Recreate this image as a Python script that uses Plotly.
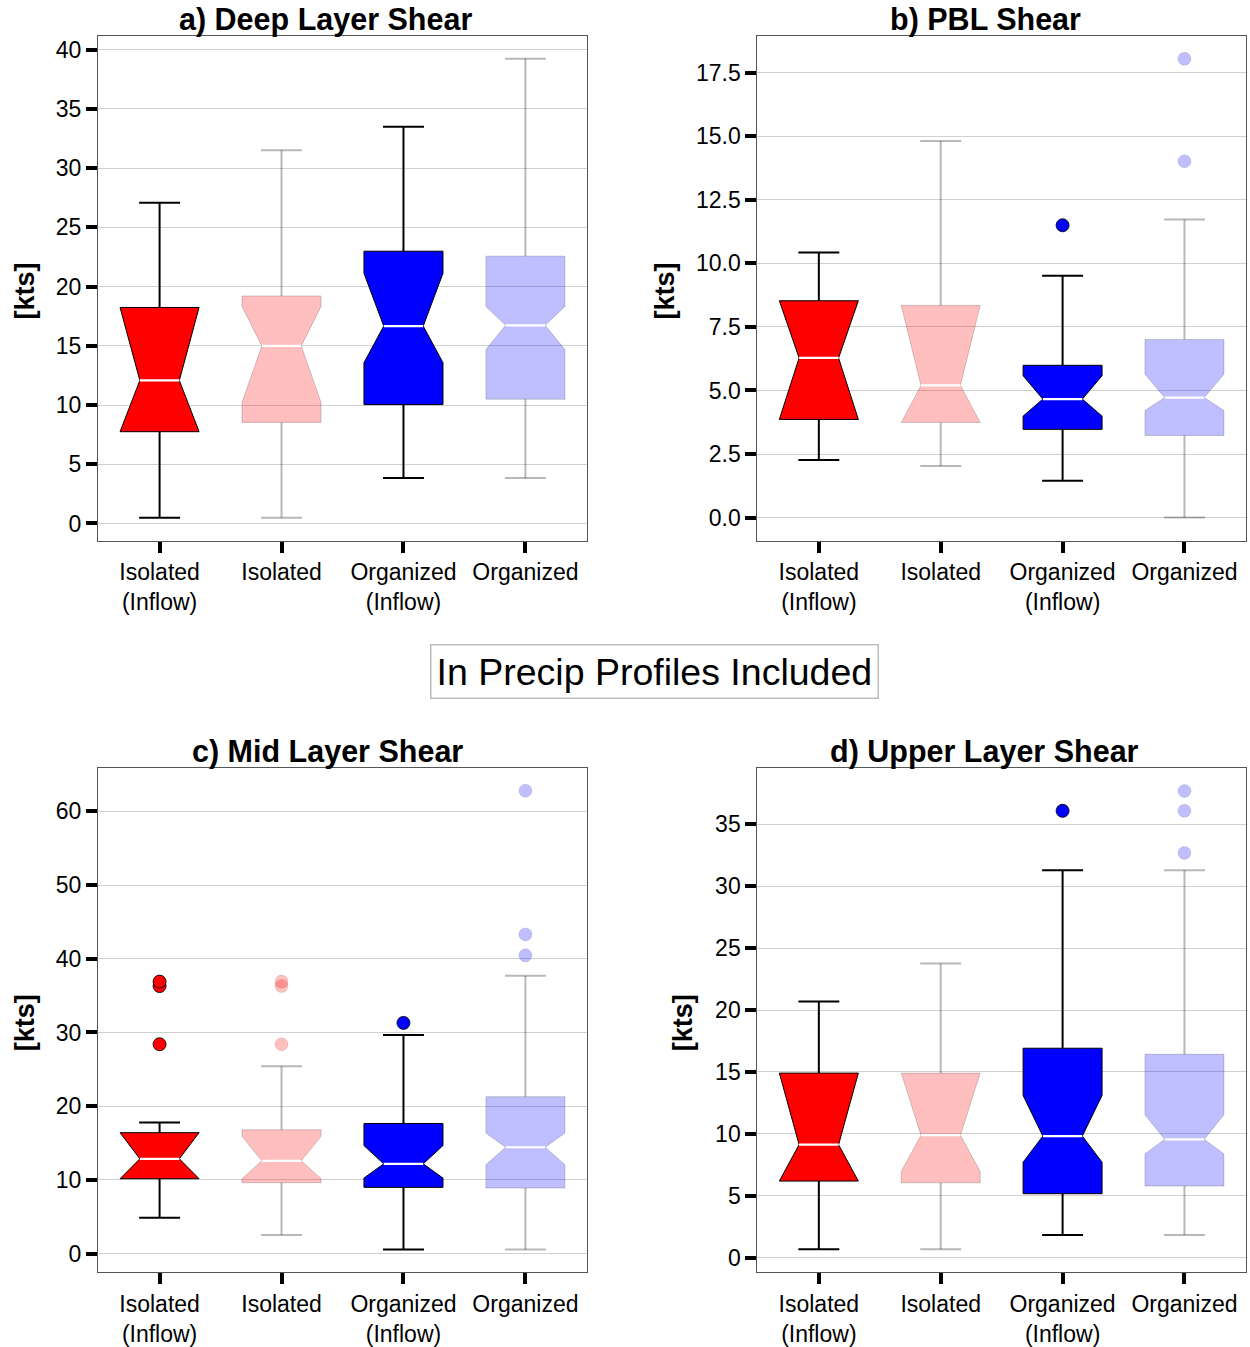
import plotly.graph_objects as go

# ---------------- data ----------------
categories = ["Isolated<br>(Inflow)", "Isolated", "Organized<br>(Inflow)", "Organized"]
is_inflow = [True, False, True, False]
base_colors = ["red", "red", "blue", "blue"]

deep_lower = [0.48, 0.48, 3.83, 3.83]
deep_q1 = [7.75, 8.53, 10.04, 10.49]
deep_notch_lo = [7.75, 10.21, 13.57, 14.68]
deep_median = [12.08, 14.99, 16.67, 16.73]
deep_notch_hi = [18.24, 18.32, 21.12, 18.32]
deep_q3 = [18.24, 19.21, 22.99, 22.57]
deep_upper = [27.07, 31.52, 33.5, 39.24]
deep_outliers = [[], [], [], []]

pbl_lower = [2.26, 2.03, 1.45, 0.0]
pbl_q1 = [3.86, 3.74, 3.47, 3.23]
pbl_notch_lo = [3.86, 3.74, 3.99, 4.21]
pbl_median = [6.28, 5.2, 4.66, 4.72]
pbl_notch_hi = [8.53, 8.35, 5.58, 5.64]
pbl_q3 = [8.53, 8.35, 5.99, 7.01]
pbl_upper = [10.43, 14.82, 9.51, 11.73]
pbl_outliers = [[], [], [11.5], [14.02, 18.05]]

mid_lower = [4.85, 2.52, 0.54, 0.54]
mid_q1 = [10.15, 9.61, 8.98, 8.89]
mid_notch_lo = [10.15, 10.15, 10.24, 12.04]
mid_median = [12.85, 12.58, 12.17, 14.42]
mid_notch_hi = [16.4, 15.9, 14.65, 16.35]
mid_q3 = [16.4, 16.8, 17.65, 21.29]
mid_upper = [17.79, 25.43, 29.65, 37.69]
mid_outliers = [[28.4, 36.3, 36.9], [28.4, 36.3, 36.9], [31.3], [40.47, 43.3, 62.8]]

upper_lower = [0.68, 0.68, 1.83, 1.83]
upper_q1 = [6.19, 6.05, 5.17, 5.79]
upper_notch_lo = [6.19, 6.96, 7.71, 8.38]
upper_median = [9.13, 9.9, 9.82, 9.56]
upper_notch_hi = [14.91, 14.91, 13.11, 11.54]
upper_q3 = [14.91, 14.91, 16.92, 16.43]
upper_upper = [20.69, 23.76, 31.3, 31.3]
upper_outliers = [[], [], [36.1], [32.7, 36.1, 37.7]]

titles = ["a) Deep Layer Shear", "b) PBL Shear", "c) Mid Layer Shear", "d) Upper Layer Shear"]
y_label = "[kts]"
center_label = "In Precip Profiles Included"

# ---------------- styling ----------------
W, H = 1250, 1347
FONT = "Liberation Sans, Arial, Helvetica, sans-serif"
BOX_HALF = 0.324
CAP_HALF = 0.168
MED_HALF = BOX_HALF / 2

fill_dark = {"red": "rgb(255,0,0)", "blue": "rgb(0,0,255)"}
fill_light = {"red": "rgba(255,0,0,0.25)", "blue": "rgba(0,0,255,0.25)"}

panels = [
    dict(lo=deep_lower, q1=deep_q1, nl=deep_notch_lo, med=deep_median, nh=deep_notch_hi,
         q3=deep_q3, hi=deep_upper, out=deep_outliers, yrange=[-1.45, 41.12], dtick=5, fmt="d",
         xdom=[98 / W, 587 / W], ydom=[1 - 544.3 / H, 1 - 36.7 / H], title_x=325, title_y=20, lab_x=25),
    dict(lo=pbl_lower, q1=pbl_q1, nl=pbl_notch_lo, med=pbl_median, nh=pbl_notch_hi,
         q3=pbl_q3, hi=pbl_upper, out=pbl_outliers, yrange=[-0.91, 18.93], dtick=2.5, fmt=".1f",
         xdom=[757.3 / W, 1246 / W], ydom=[1 - 544.3 / H, 1 - 36.7 / H], title_x=985, title_y=20, lab_x=665),
    dict(lo=mid_lower, q1=mid_q1, nl=mid_notch_lo, med=mid_median, nh=mid_notch_hi,
         q3=mid_q3, hi=mid_upper, out=mid_outliers, yrange=[-2.51, 65.84], dtick=10, fmt="d",
         xdom=[98 / W, 587 / W], ydom=[1 - 1280.6 / H, 1 - 773.5 / H], title_x=327, title_y=757, lab_x=25),
    dict(lo=upper_lower, q1=upper_q1, nl=upper_notch_lo, med=upper_median, nh=upper_notch_hi,
         q3=upper_q3, hi=upper_upper, out=upper_outliers, yrange=[-1.16, 39.53], dtick=5, fmt="d",
         xdom=[757.3 / W, 1246 / W], ydom=[1 - 1280.6 / H, 1 - 773.5 / H], title_x=984, title_y=757, lab_x=683),
]

fig = go.Figure()
annotations = []

for p_idx, p in enumerate(panels):
    sfx = "" if p_idx == 0 else str(p_idx + 1)
    xa, ya = "x" + sfx, "y" + sfx
    for i in range(len(categories)):
        dark = is_inflow[i]
        c = base_colors[i]
        wcol = "black" if dark else "rgba(0,0,0,0.28)"
        # whiskers + caps
        fig.add_trace(go.Scatter(
            x=[i, i, None, i - CAP_HALF, i + CAP_HALF, None, i, i, None, i - CAP_HALF, i + CAP_HALF],
            y=[p["q3"][i], p["hi"][i], None, p["hi"][i], p["hi"][i], None,
               p["q1"][i], p["lo"][i], None, p["lo"][i], p["lo"][i]],
            mode="lines", line=dict(color=wcol, width=2), xaxis=xa, yaxis=ya,
            hoverinfo="skip", showlegend=False))
        # notched box
        bx = [i - BOX_HALF, i - BOX_HALF, i - MED_HALF, i - BOX_HALF, i - BOX_HALF,
              i + BOX_HALF, i + BOX_HALF, i + MED_HALF, i + BOX_HALF, i + BOX_HALF, i - BOX_HALF]
        by = [p["q1"][i], p["nl"][i], p["med"][i], p["nh"][i], p["q3"][i],
              p["q3"][i], p["nh"][i], p["med"][i], p["nl"][i], p["q1"][i], p["q1"][i]]
        fig.add_trace(go.Scatter(
            x=bx, y=by, mode="lines", fill="toself",
            fillcolor=fill_dark[c] if dark else fill_light[c],
            line=dict(color="black" if dark else "rgba(0,0,0,0.18)", width=1),
            xaxis=xa, yaxis=ya, hoverinfo="skip", showlegend=False))
        # median
        fig.add_trace(go.Scatter(
            x=[i - MED_HALF, i + MED_HALF], y=[p["med"][i], p["med"][i]],
            mode="lines", line=dict(color="white", width=2.2),
            xaxis=xa, yaxis=ya, hoverinfo="skip", showlegend=False))
        # outliers
        if p["out"][i]:
            fig.add_trace(go.Scatter(
                x=[i] * len(p["out"][i]), y=p["out"][i], mode="markers",
                marker=dict(size=13, color=fill_dark[c] if dark else fill_light[c],
                            line=dict(color="rgba(0,0,0,0.85)" if dark else "rgba(0,0,0,0.1)", width=1)),
                xaxis=xa, yaxis=ya, hoverinfo="skip", showlegend=False))

    axis_common = dict(ticks="outside", ticklen=11, tickwidth=4, tickcolor="black",
                       showline=True, linecolor="#555555", linewidth=1, mirror=True,
                       zeroline=False, tickfont=dict(family=FONT, size=23, color="black"))
    fig.layout["xaxis" + sfx] = dict(
        domain=p["xdom"], range=[-0.505, 3.505], tickmode="array",
        tickvals=list(range(len(categories))), ticktext=categories,
        showgrid=False, anchor=ya, **axis_common)
    fig.layout["yaxis" + sfx] = dict(
        domain=p["ydom"], range=p["yrange"], tick0=0, dtick=p["dtick"], tickformat=p["fmt"],
        showgrid=True, gridcolor="rgb(208,208,208)", gridwidth=1, anchor=xa, **axis_common)

    annotations.append(dict(
        text="<b>" + titles[p_idx] + "</b>", x=p["title_x"] / W, y=1 - p["title_y"] / H,
        xref="paper", yref="paper", xanchor="center", yanchor="middle", showarrow=False,
        font=dict(family=FONT, size=30.5, color="black")))
    ymid = (p["ydom"][0] + p["ydom"][1]) / 2 - 3 / H
    annotations.append(dict(
        text="<b>" + y_label + "</b>", x=p["lab_x"] / W, y=ymid, textangle=-90,
        xref="paper", yref="paper", xanchor="center", yanchor="middle", showarrow=False,
        font=dict(family=FONT, size=27, color="black")))

annotations.append(dict(
    text=center_label, x=654 / W, y=1 - 676.5 / H, xref="paper", yref="paper",
    xanchor="center", yanchor="middle", showarrow=False,
    font=dict(family=FONT, size=37.5, color="black"),
    bordercolor="rgb(190,190,190)", borderwidth=1.5, borderpad=5, bgcolor="white"))

fig.update_layout(
    width=W, height=H, margin=dict(l=0, r=0, t=0, b=0),
    paper_bgcolor="white", plot_bgcolor="white", showlegend=False,
    annotations=annotations, font=dict(family=FONT))

fig.write_html("out.html")
